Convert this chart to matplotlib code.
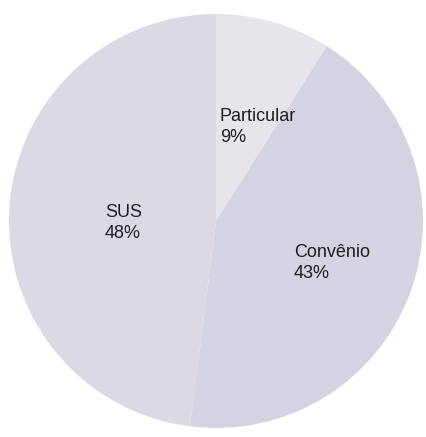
import matplotlib
matplotlib.use("Agg")
import matplotlib.pyplot as plt

# dados do gráfico
categorias = ["Particular", "Convênio", "SUS"]
percentuais = [9, 43, 48]
cores = ["#e7e4eb", "#d3d3e2", "#dcd9e4"]

# posicoes dos rotulos (pixels: borda esquerda / linha de base da ultima linha)
pos_rotulos = {"Particular": (220, 142), "Convênio": (294, 278), "SUS": (105, 238)}

W, H = 427, 437
cx, cy, r = 216, 221, 207  # centro e raio da pizza em pixels


def px2data(px, py):
    """converte pixel (origem no topo) para coordenadas dos dados"""
    return (px - cx) / r, (cy - py) / r


fig = plt.figure(figsize=(W / 100, H / 100), dpi=100)
ax = fig.add_axes([0, 0, 1, 1])

ax.pie(percentuais, colors=cores, startangle=90, counterclock=False,
       radius=1, center=(0, 0), wedgeprops=dict(linewidth=0))

for nome, pct in zip(categorias, percentuais):
    x, y = px2data(*pos_rotulos[nome])
    ax.text(x, y, "{}\n{}%".format(nome, pct), ha="left", va="baseline",
            fontsize=13, family="Liberation Sans", color="#1e1e1e",
            linespacing=1.3)

ax.set_xlim(-cx / r, (W - cx) / r)
ax.set_ylim(-(H - cy) / r, cy / r)
ax.set_aspect("auto")
ax.axis("off")

fig.savefig("out.png", dpi=100)
